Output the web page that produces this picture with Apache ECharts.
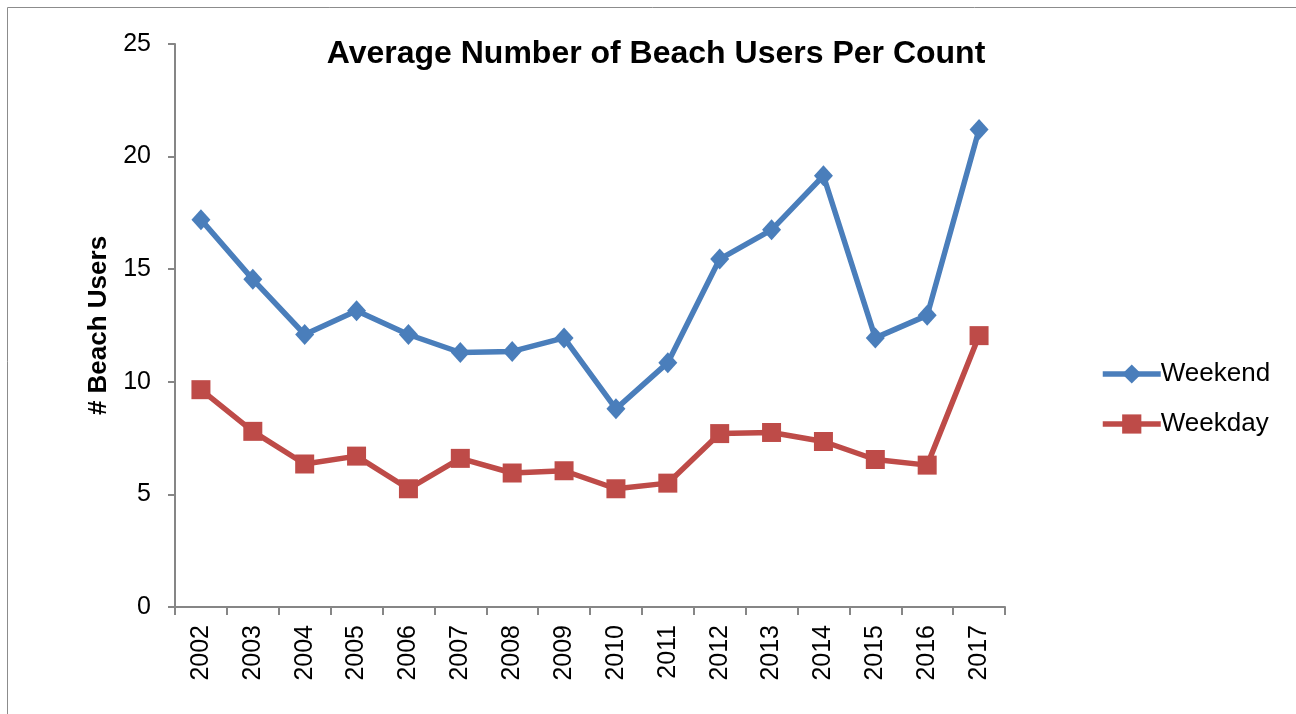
<!DOCTYPE html>
<html>
<head>
<meta charset="utf-8">
<script src="https://cdn.jsdelivr.net/npm/echarts@6/dist/echarts.min.js"></script>
<style>
  html, body { margin: 0; padding: 0; background: #fff; }
  #chart { width: 1296px; height: 714px; }
</style>
</head>
<body>
<div id="chart"></div>
<script>
var years = ['2002', '2003', '2004', '2005', '2006', '2007', '2008', '2009',
  '2010', '2011', '2012', '2013', '2014', '2015', '2016', '2017']
var weekend = [17.2, 14.55, 12.1, 13.15, 12.1, 11.3, 11.35, 11.95,
  8.8, 10.85, 15.45, 16.75, 19.15, 11.95, 12.95, 21.2]
var weekday = [9.65, 7.8, 6.35, 6.7, 5.25, 6.6, 5.95, 6.05,
  5.25, 5.5, 7.7, 7.75, 7.35, 6.55, 6.3, 12.05]

var chart = echarts.init(document.getElementById('chart'))
var font = 'Liberation Sans, Arial, sans-serif'
var axisGray = '#868686'

chart.setOption({
  animation: false,
  textStyle: { fontFamily: font },
  title: {
    text: 'Average Number of Beach Users Per Count',
    left: 651,
    textAlign: 'center',
    top: 33,
    textStyle: { fontSize: 32, fontWeight: 'bold', color: '#000', fontFamily: font }
  },
  graphic: [{
    type: 'rect',
    shape: { x: 7.5, y: 7.5, width: 1300, height: 730 },
    style: { fill: 'none', stroke: '#8c8c8c', lineWidth: 1 }
  }],
  grid: { left: 175, right: 291, top: 44, bottom: 107 },
  legend: {
    orient: 'vertical',
    left: 1095,
    top: 356,
    itemWidth: 58,
    itemHeight: 24,
    itemGap: 24,
    lineStyle: { width: 5.5 },
    textStyle: { fontSize: 26, color: '#000', fontFamily: font, padding: [0, 0, 0, -5] },
    data: ['Weekend', 'Weekday']
  },
  xAxis: {
    type: 'category',
    data: years,
    boundaryGap: true,
    axisLine: { lineStyle: { color: axisGray, width: 2 } },
    axisTick: { show: true, length: 8, lineStyle: { color: axisGray, width: 2 } },
    axisLabel: { rotate: 90, fontSize: 25, color: '#000', margin: 18, fontFamily: font }
  },
  yAxis: {
    type: 'value',
    min: 0,
    max: 25,
    interval: 5,
    name: '# Beach Users',
    nameLocation: 'middle',
    nameGap: 59,
    nameTextStyle: { fontSize: 26, fontWeight: 'bold', color: '#000', fontFamily: font },
    axisLine: { show: true, lineStyle: { color: axisGray, width: 2 } },
    axisTick: { show: true, length: 7, lineStyle: { color: axisGray, width: 2 } },
    axisLabel: { fontSize: 25, color: '#000', margin: 24, fontFamily: font },
    splitLine: { show: false }
  },
  series: [{
    name: 'Weekend',
    type: 'line',
    data: weekend,
    symbol: 'diamond',
    symbolSize: [19, 21],
    lineStyle: { color: '#4a7ebb', width: 5.5 },
    itemStyle: { color: '#4a7ebb' }
  }, {
    name: 'Weekday',
    type: 'line',
    data: weekday,
    symbol: 'rect',
    symbolSize: 19,
    lineStyle: { color: '#be4b48', width: 5.5 },
    itemStyle: { color: '#be4b48' }
  }]
})
</script>
</body>
</html>
